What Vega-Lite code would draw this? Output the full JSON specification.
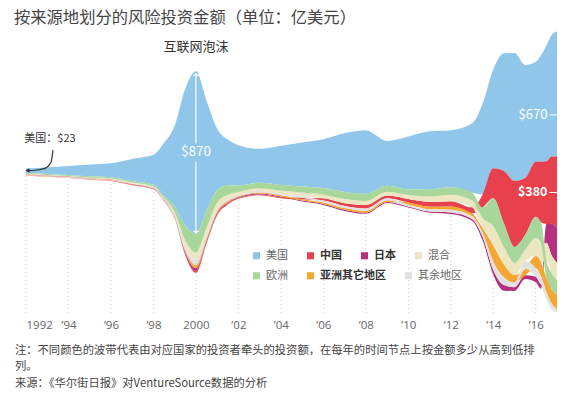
{
  "$schema": "https://vega.github.io/schema/vega-lite/v6.json",
  "width": 531,
  "height": 296,
  "autosize": {"type": "none"},
  "padding": {"left": 26, "right": 7, "top": 20, "bottom": 78},
  "background": "white",
  "config": {
    "font": "Noto Sans CJK SC",
    "view": {"stroke": null},
    "legend": {
      "title": null, "orient": "none", "direction": "horizontal", "columns": 4,
      "symbolType": "square", "symbolSize": 50, "symbolStrokeWidth": 0, "symbolOpacity": 1,
      "labelFontSize": 11, "labelFont": "Noto Sans CJK SC", "labelOffset": 4,
      "columnPadding": 17, "rowPadding": 8, "padding": 0,
      "labelColor": {"expr": "indexof(['中国','日本','亚洲其它地区'], datum.value) >= 0 ? '#333' : '#666'"},
      "labelFontWeight": {"expr": "indexof(['中国','日本','亚洲其它地区'], datum.value) >= 0 ? 'bold' : 'normal'"}
    }
  },
  "title": {
    "text": "按来源地划分的风险投资金额（单位：亿美元）",
    "anchor": "start",
    "fontSize": 16.3,
    "fontWeight": "normal",
    "color": "#444",
    "dx": -12,
    "offset": -6,
    "frame": "group"
  },
  "datasets": {
    "stream": [
      {"year":1992,"region":"美国","amount":23},{"year":1992,"region":"中国","amount":1},{"year":1992,"region":"日本","amount":2.5},{"year":1992,"region":"混合","amount":3},{"year":1992,"region":"欧洲","amount":4},{"year":1992,"region":"亚洲其它地区","amount":1.5},{"year":1992,"region":"其余地区","amount":2},
      {"year":1993,"region":"美国","amount":36},{"year":1993,"region":"中国","amount":1},{"year":1993,"region":"日本","amount":2.5},{"year":1993,"region":"混合","amount":3},{"year":1993,"region":"欧洲","amount":5},{"year":1993,"region":"亚洲其它地区","amount":1.5},{"year":1993,"region":"其余地区","amount":2},
      {"year":1994,"region":"美国","amount":48},{"year":1994,"region":"中国","amount":1},{"year":1994,"region":"日本","amount":3},{"year":1994,"region":"混合","amount":3},{"year":1994,"region":"欧洲","amount":5},{"year":1994,"region":"亚洲其它地区","amount":2},{"year":1994,"region":"其余地区","amount":2},
      {"year":1995,"region":"美国","amount":64},{"year":1995,"region":"中国","amount":1},{"year":1995,"region":"日本","amount":3},{"year":1995,"region":"混合","amount":3.5},{"year":1995,"region":"欧洲","amount":6},{"year":1995,"region":"亚洲其它地区","amount":2},{"year":1995,"region":"其余地区","amount":2},
      {"year":1996,"region":"美国","amount":75},{"year":1996,"region":"中国","amount":1.5},{"year":1996,"region":"日本","amount":3},{"year":1996,"region":"混合","amount":4},{"year":1996,"region":"欧洲","amount":7},{"year":1996,"region":"亚洲其它地区","amount":2},{"year":1996,"region":"其余地区","amount":2.5},
      {"year":1997,"region":"美国","amount":118},{"year":1997,"region":"中国","amount":1.5},{"year":1997,"region":"日本","amount":3},{"year":1997,"region":"混合","amount":5},{"year":1997,"region":"欧洲","amount":8},{"year":1997,"region":"亚洲其它地区","amount":2},{"year":1997,"region":"其余地区","amount":3},
      {"year":1998,"region":"美国","amount":160},{"year":1998,"region":"中国","amount":2},{"year":1998,"region":"日本","amount":3},{"year":1998,"region":"混合","amount":5},{"year":1998,"region":"欧洲","amount":9},{"year":1998,"region":"亚洲其它地区","amount":2},{"year":1998,"region":"其余地区","amount":3},
      {"year":1998.5,"region":"美国","amount":283},{"year":1998.5,"region":"中国","amount":2},{"year":1998.5,"region":"日本","amount":4},{"year":1998.5,"region":"混合","amount":6},{"year":1998.5,"region":"欧洲","amount":12},{"year":1998.5,"region":"亚洲其它地区","amount":2},{"year":1998.5,"region":"其余地区","amount":3},
      {"year":1999,"region":"美国","amount":433},{"year":1999,"region":"中国","amount":3},{"year":1999,"region":"日本","amount":5},{"year":1999,"region":"混合","amount":14},{"year":1999,"region":"欧洲","amount":30},{"year":1999,"region":"亚洲其它地区","amount":4},{"year":1999,"region":"其余地区","amount":7},
      {"year":1999.5,"region":"美国","amount":733},{"year":1999.5,"region":"中国","amount":7},{"year":1999.5,"region":"日本","amount":10},{"year":1999.5,"region":"混合","amount":35},{"year":1999.5,"region":"欧洲","amount":80},{"year":1999.5,"region":"亚洲其它地区","amount":10},{"year":1999.5,"region":"其余地区","amount":18},
      {"year":2000,"region":"美国","amount":870},{"year":2000,"region":"中国","amount":10},{"year":2000,"region":"日本","amount":14},{"year":2000,"region":"混合","amount":42},{"year":2000,"region":"欧洲","amount":100},{"year":2000,"region":"亚洲其它地区","amount":18},{"year":2000,"region":"其余地区","amount":25},
      {"year":2000.5,"region":"美国","amount":590},{"year":2000.5,"region":"中国","amount":7},{"year":2000.5,"region":"日本","amount":10},{"year":2000.5,"region":"混合","amount":35},{"year":2000.5,"region":"欧洲","amount":90},{"year":2000.5,"region":"亚洲其它地区","amount":12},{"year":2000.5,"region":"其余地区","amount":20},
      {"year":2001,"region":"美国","amount":330},{"year":2001,"region":"中国","amount":6},{"year":2001,"region":"日本","amount":8},{"year":2001,"region":"混合","amount":30},{"year":2001,"region":"欧洲","amount":65},{"year":2001,"region":"亚洲其它地区","amount":10},{"year":2001,"region":"其余地区","amount":15},
      {"year":2001.5,"region":"美国","amount":245},{"year":2001.5,"region":"中国","amount":5},{"year":2001.5,"region":"日本","amount":6},{"year":2001.5,"region":"混合","amount":22},{"year":2001.5,"region":"欧洲","amount":50},{"year":2001.5,"region":"亚洲其它地区","amount":7},{"year":2001.5,"region":"其余地区","amount":12},
      {"year":2002,"region":"美国","amount":215},{"year":2002,"region":"中国","amount":4},{"year":2002,"region":"日本","amount":5},{"year":2002,"region":"混合","amount":15},{"year":2002,"region":"欧洲","amount":35},{"year":2002,"region":"亚洲其它地区","amount":5},{"year":2002,"region":"其余地区","amount":8},
      {"year":2003,"region":"美国","amount":182},{"year":2003,"region":"中国","amount":4},{"year":2003,"region":"日本","amount":5},{"year":2003,"region":"混合","amount":14},{"year":2003,"region":"欧洲","amount":30},{"year":2003,"region":"亚洲其它地区","amount":5},{"year":2003,"region":"其余地区","amount":8},
      {"year":2004,"region":"美国","amount":210},{"year":2004,"region":"中国","amount":5},{"year":2004,"region":"日本","amount":5},{"year":2004,"region":"混合","amount":16},{"year":2004,"region":"欧洲","amount":30},{"year":2004,"region":"亚洲其它地区","amount":6},{"year":2004,"region":"其余地区","amount":9},
      {"year":2005,"region":"美国","amount":235},{"year":2005,"region":"中国","amount":8},{"year":2005,"region":"日本","amount":5},{"year":2005,"region":"混合","amount":18},{"year":2005,"region":"欧洲","amount":33},{"year":2005,"region":"亚洲其它地区","amount":7},{"year":2005,"region":"其余地区","amount":10},
      {"year":2006,"region":"美国","amount":262},{"year":2006,"region":"中国","amount":12},{"year":2006,"region":"日本","amount":5},{"year":2006,"region":"混合","amount":20},{"year":2006,"region":"欧洲","amount":35},{"year":2006,"region":"亚洲其它地区","amount":8},{"year":2006,"region":"其余地区","amount":10},
      {"year":2007,"region":"美国","amount":315},{"year":2007,"region":"中国","amount":15},{"year":2007,"region":"日本","amount":6},{"year":2007,"region":"混合","amount":22},{"year":2007,"region":"欧洲","amount":38},{"year":2007,"region":"亚洲其它地区","amount":9},{"year":2007,"region":"其余地区","amount":11},
      {"year":2008,"region":"美国","amount":340},{"year":2008,"region":"中国","amount":19},{"year":2008,"region":"日本","amount":6},{"year":2008,"region":"混合","amount":22},{"year":2008,"region":"欧洲","amount":38},{"year":2008,"region":"亚洲其它地区","amount":10},{"year":2008,"region":"其余地区","amount":12},
      {"year":2009,"region":"美国","amount":240},{"year":2009,"region":"中国","amount":15},{"year":2009,"region":"日本","amount":5},{"year":2009,"region":"混合","amount":20},{"year":2009,"region":"欧洲","amount":32},{"year":2009,"region":"亚洲其它地区","amount":10},{"year":2009,"region":"其余地区","amount":10},
      {"year":2010,"region":"美国","amount":283},{"year":2010,"region":"中国","amount":18},{"year":2010,"region":"日本","amount":5},{"year":2010,"region":"混合","amount":22},{"year":2010,"region":"欧洲","amount":30},{"year":2010,"region":"亚洲其它地区","amount":12},{"year":2010,"region":"其余地区","amount":10},
      {"year":2011,"region":"美国","amount":310},{"year":2011,"region":"中国","amount":25},{"year":2011,"region":"日本","amount":6},{"year":2011,"region":"混合","amount":30},{"year":2011,"region":"欧洲","amount":38},{"year":2011,"region":"亚洲其它地区","amount":14},{"year":2011,"region":"其余地区","amount":12},
      {"year":2012,"region":"美国","amount":305},{"year":2012,"region":"中国","amount":28},{"year":2012,"region":"日本","amount":8},{"year":2012,"region":"混合","amount":35},{"year":2012,"region":"欧洲","amount":40},{"year":2012,"region":"亚洲其它地区","amount":18},{"year":2012,"region":"其余地区","amount":14},
      {"year":2013,"region":"美国","amount":370},{"year":2013,"region":"中国","amount":32},{"year":2013,"region":"日本","amount":10},{"year":2013,"region":"混合","amount":38},{"year":2013,"region":"欧洲","amount":42},{"year":2013,"region":"亚洲其它地区","amount":16},{"year":2013,"region":"其余地区","amount":14},
      {"year":2013.5,"region":"美国","amount":487},{"year":2013.5,"region":"中国","amount":70},{"year":2013.5,"region":"日本","amount":20},{"year":2013.5,"region":"混合","amount":55},{"year":2013.5,"region":"欧洲","amount":56},{"year":2013.5,"region":"亚洲其它地区","amount":25},{"year":2013.5,"region":"其余地区","amount":21},
      {"year":2014,"region":"美国","amount":530},{"year":2014,"region":"中国","amount":160},{"year":2014,"region":"日本","amount":25},{"year":2014,"region":"混合","amount":105},{"year":2014,"region":"欧洲","amount":150},{"year":2014,"region":"亚洲其它地区","amount":85},{"year":2014,"region":"其余地区","amount":45},
      {"year":2014.5,"region":"美国","amount":630},{"year":2014.5,"region":"中国","amount":280},{"year":2014.5,"region":"日本","amount":30},{"year":2014.5,"region":"混合","amount":95},{"year":2014.5,"region":"欧洲","amount":125},{"year":2014.5,"region":"亚洲其它地区","amount":70},{"year":2014.5,"region":"其余地区","amount":40},
      {"year":2015,"region":"美国","amount":685},{"year":2015,"region":"中国","amount":353},{"year":2015,"region":"日本","amount":20},{"year":2015,"region":"混合","amount":65},{"year":2015,"region":"欧洲","amount":85},{"year":2015,"region":"亚洲其它地区","amount":40},{"year":2015,"region":"其余地区","amount":25},
      {"year":2015.5,"region":"美国","amount":605},{"year":2015.5,"region":"中国","amount":305},{"year":2015.5,"region":"日本","amount":20},{"year":2015.5,"region":"混合","amount":60},{"year":2015.5,"region":"欧洲","amount":80},{"year":2015.5,"region":"亚洲其它地区","amount":35},{"year":2015.5,"region":"其余地区","amount":40},
      {"year":2016,"region":"美国","amount":535},{"year":2016,"region":"中国","amount":295},{"year":2016,"region":"日本","amount":30},{"year":2016,"region":"混合","amount":95},{"year":2016,"region":"欧洲","amount":115},{"year":2016,"region":"亚洲其它地区","amount":65},{"year":2016,"region":"其余地区","amount":45},
      {"year":2016.25,"region":"美国","amount":570},{"year":2016.25,"region":"中国","amount":325},{"year":2016.25,"region":"日本","amount":25},{"year":2016.25,"region":"混合","amount":100},{"year":2016.25,"region":"欧洲","amount":115},{"year":2016.25,"region":"亚洲其它地区","amount":75},{"year":2016.25,"region":"其余地区","amount":40},
      {"year":2016.5,"region":"美国","amount":620},{"year":2016.5,"region":"中国","amount":335},{"year":2016.5,"region":"日本","amount":100},{"year":2016.5,"region":"混合","amount":96},{"year":2016.5,"region":"欧洲","amount":92},{"year":2016.5,"region":"亚洲其它地区","amount":76},{"year":2016.5,"region":"其余地区","amount":35},
      {"year":2016.75,"region":"美国","amount":650},{"year":2016.75,"region":"中国","amount":360},{"year":2016.75,"region":"日本","amount":170},{"year":2016.75,"region":"混合","amount":95},{"year":2016.75,"region":"欧洲","amount":88},{"year":2016.75,"region":"亚洲其它地区","amount":76},{"year":2016.75,"region":"其余地区","amount":28},
      {"year":2017,"region":"美国","amount":670},{"year":2017,"region":"中国","amount":380},{"year":2017,"region":"日本","amount":190},{"year":2017,"region":"混合","amount":90},{"year":2017,"region":"欧洲","amount":80},{"year":2017,"region":"亚洲其它地区","amount":75},{"year":2017,"region":"其余地区","amount":20}
    ],
    "gridYears": [
      {"year":1992},{"year":1994},{"year":1996},{"year":1998},{"year":2000},{"year":2002},{"year":2004},{"year":2006},{"year":2008},{"year":2010},{"year":2012},{"year":2014},{"year":2016}
    ],
    "usArrow": [
      {"year":1993.27,"amount":870},
      {"year":1993.18,"amount":806},
      {"year":1992.89,"amount":772},
      {"year":1992.45,"amount":762},
      {"year":1992.1,"amount":760}
    ],
    "one": [{}]
  },
  "layer": [
    {
      "data": {"name": "gridYears"},
      "mark": {"type": "rule", "color": "#cfcfcf", "strokeDash": [1, 3], "strokeWidth": 1},
      "encoding": {
        "x": {"field": "year", "type": "quantitative", "scale": {"domain": [1992, 2017], "nice": false, "zero": false},
          "title": null,
          "axis": {
            "values": [1992,1994,1996,1998,2000,2002,2004,2006,2008,2010,2012,2014,2016],
            "labelExpr": "datum.value == 1992 || datum.value == 2000 ? toString(datum.value) : '’' + substring(toString(datum.value), 2)",
            "domain": false, "ticks": false, "grid": false,
            "labelPadding": 3, "labelFontSize": 11.5, "labelColor": "#666", "labelFont": "Open Sans"
          }},
        "y": {"datum": 752.5, "type": "quantitative", "scale": {"domain": [-18, 1566], "nice": false, "zero": false}, "axis": null},
        "y2": {"datum": -18}
      }
    },
    {
      "data": {"name": "stream"},
      "transform": [
        {"stack": "amount", "groupby": ["year"], "sort": [{"field": "amount", "order": "ascending"}], "offset": "center", "as": ["lo", "hi"]},
        {"filter": {"field": "region", "oneOf": ["美国","中国","日本","混合"]}}
      ],
      "mark": {"type": "area", "interpolate": "monotone", "opacity": 1},
      "encoding": {
        "x": {"field": "year", "type": "quantitative", "title": null},
        "y": {"field": "hi", "type": "quantitative", "axis": null},
        "y2": {"field": "lo"},
        "color": {
          "field": "region", "type": "nominal",
          "scale": {"domain": ["美国","中国","日本","混合"], "range": ["#8fc6ea","#e8414e","#b5317f","#ece6c1"]},
          "legend": {"legendX": 225, "legendY": 230}
        }
      }
    },
    {
      "data": {"name": "stream"},
      "transform": [
        {"stack": "amount", "groupby": ["year"], "sort": [{"field": "amount", "order": "ascending"}], "offset": "center", "as": ["lo", "hi"]},
        {"filter": {"field": "region", "oneOf": ["欧洲","亚洲其它地区","其余地区"]}}
      ],
      "mark": {"type": "area", "interpolate": "monotone", "opacity": 1},
      "encoding": {
        "x": {"field": "year", "type": "quantitative", "title": null},
        "y": {"field": "hi", "type": "quantitative", "axis": null},
        "y2": {"field": "lo"},
        "fill": {
          "field": "region", "type": "nominal",
          "scale": {"domain": ["欧洲","亚洲其它地区","其余地区"], "range": ["#a8d69b","#f6a633","#e1e1e1"]},
          "legend": {"legendX": 225, "legendY": 250}
        }
      }
    },
    {
      "data": {"name": "usArrow"},
      "mark": {"type": "line", "interpolate": "monotone", "color": "#333", "strokeWidth": 1.2},
      "encoding": {
        "x": {"field": "year", "type": "quantitative", "title": null},
        "y": {"field": "amount", "type": "quantitative", "axis": null}
      }
    },
    {
      "data": {"name": "one"},
      "mark": {"type": "point", "shape": "triangle-left", "filled": true, "color": "#333", "size": 22, "opacity": 1},
      "encoding": {"x": {"datum": 1992.07, "title": null}, "y": {"datum": 760, "axis": null}}
    },
    {
      "data": {"name": "one"},
      "mark": {"type": "text", "text": "美国：$23", "fontSize": 11, "color": "#333", "align": "center", "baseline": "middle"},
      "encoding": {"x": {"datum": 1993.13, "title": null}, "y": {"datum": 929, "axis": null}}
    },
    {
      "data": {"name": "one"},
      "mark": {"type": "text", "text": "互联网泡沫", "fontSize": 13, "color": "#333", "align": "center", "baseline": "middle"},
      "encoding": {"x": {"datum": 2000, "title": null}, "y": {"datum": 1421, "axis": null}}
    },
    {
      "data": {"name": "one"},
      "mark": {"type": "text", "text": "$870", "fontSize": 13.5, "color": "white", "align": "center", "baseline": "middle"},
      "encoding": {"x": {"datum": 2000, "title": null}, "y": {"datum": 860, "axis": null}}
    },
    {
      "data": {"name": "one"},
      "mark": {"type": "rule", "color": "white", "strokeWidth": 1.2},
      "encoding": {"x": {"datum": 2000, "title": null}, "y": {"datum": 1277, "axis": null}, "y2": {"datum": 905}}
    },
    {
      "data": {"name": "one"},
      "mark": {"type": "rule", "color": "white", "strokeWidth": 1.2},
      "encoding": {"x": {"datum": 2000, "title": null}, "y": {"datum": 806, "axis": null}, "y2": {"datum": 428}}
    },
    {
      "data": {"name": "one"},
      "mark": {"type": "point", "shape": "M -1 0.7 L 0 0 L 1 0.7", "filled": false, "color": "white", "strokeWidth": 1.2, "size": 30, "opacity": 1},
      "encoding": {"x": {"datum": 2000, "title": null}, "y": {"datum": 1277, "axis": null}}
    },
    {
      "data": {"name": "one"},
      "mark": {"type": "point", "shape": "M -1 -0.7 L 0 0 L 1 -0.7", "filled": false, "color": "white", "strokeWidth": 1.2, "size": 30, "opacity": 1},
      "encoding": {"x": {"datum": 2000, "title": null}, "y": {"datum": 428, "axis": null}}
    },
    {
      "data": {"name": "one"},
      "mark": {"type": "text", "text": "$670", "fontSize": 13, "color": "white", "align": "right", "baseline": "middle"},
      "encoding": {"x": {"datum": 2016.55, "title": null}, "y": {"datum": 1058, "axis": null}}
    },
    {
      "data": {"name": "one"},
      "mark": {"type": "rule", "color": "white", "strokeWidth": 1},
      "encoding": {"x": {"datum": 2016.64, "title": null}, "x2": {"datum": 2017}, "y": {"datum": 1058, "axis": null}}
    },
    {
      "data": {"name": "one"},
      "mark": {"type": "text", "text": "$380", "fontSize": 12.5, "fontWeight": "bold", "color": "white", "align": "right", "baseline": "middle"},
      "encoding": {"x": {"datum": 2016.55, "title": null}, "y": {"datum": 643, "axis": null}}
    },
    {
      "data": {"name": "one"},
      "mark": {"type": "rule", "color": "white", "strokeWidth": 1},
      "encoding": {"x": {"datum": 2016.64, "title": null}, "x2": {"datum": 2017}, "y": {"datum": 643, "axis": null}}
    },
    {
      "data": {"name": "one"},
      "mark": {
        "type": "text",
        "text": ["注：不同颜色的波带代表由对应国家的投资者牵头的投资额，在每年的时间节点上按金额多少从高到低排", "列。", "来源：《华尔街日报》对VentureSource数据的分析"],
        "fontSize": 11.3, "lineHeight": 16.5, "color": "#444", "align": "left", "baseline": "top"
      },
      "encoding": {"x": {"datum": 1991.48, "title": null}, "y": {"datum": -173, "axis": null}}
    }
  ]
}
